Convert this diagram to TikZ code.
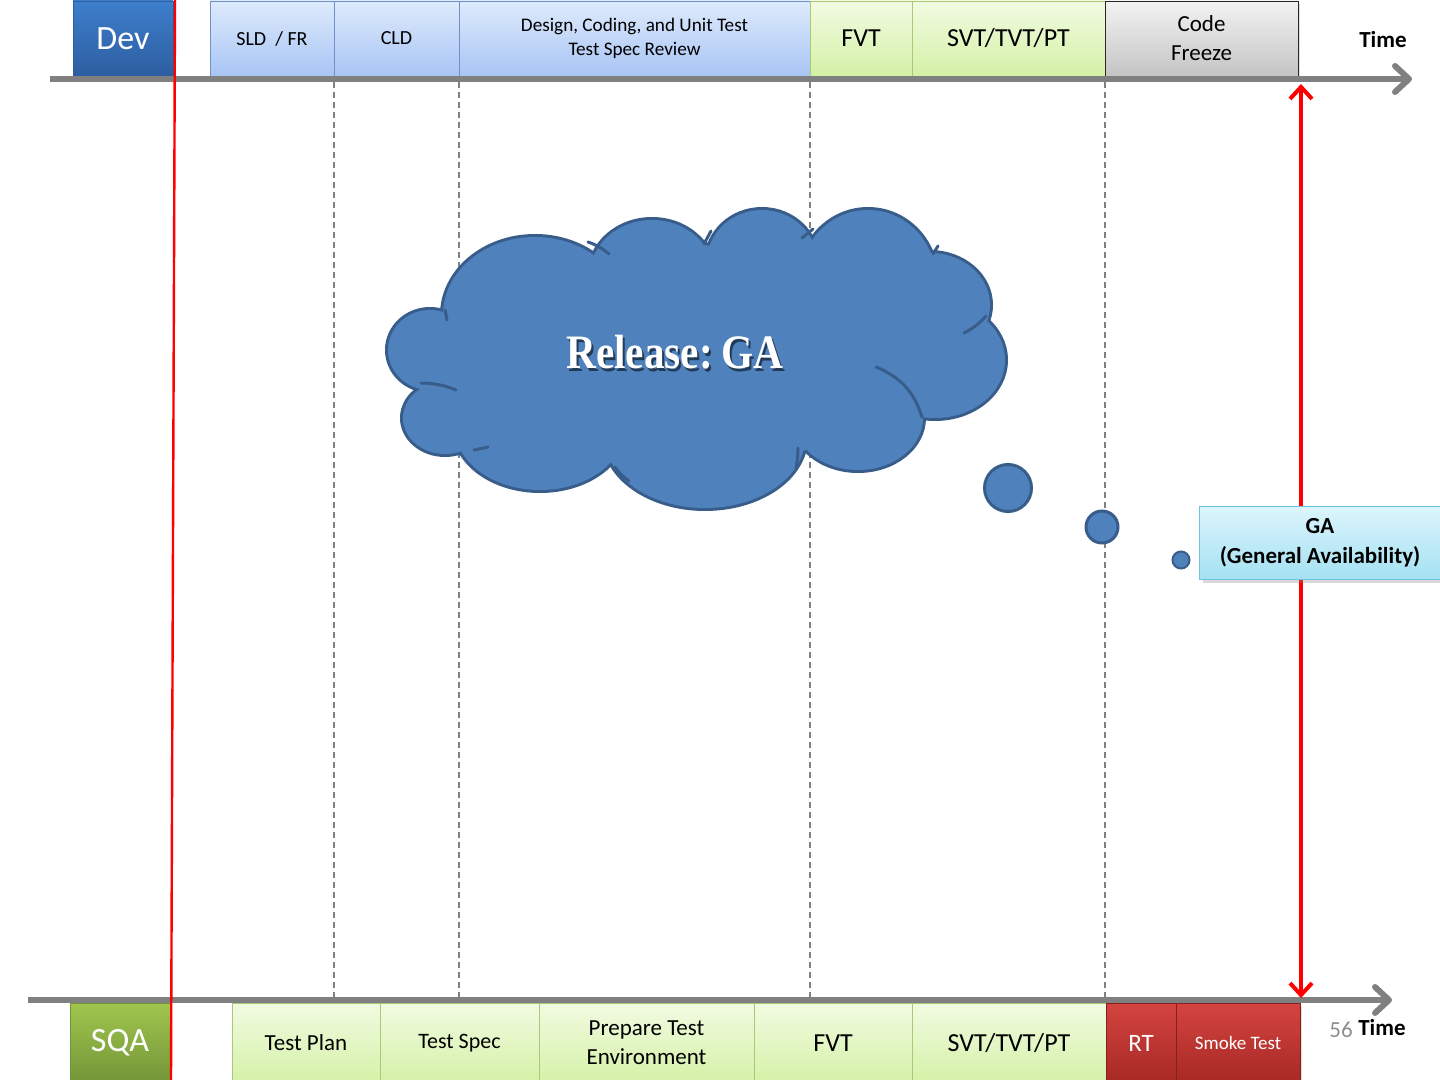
\documentclass[tikz,border=0pt]{standalone}
\usepackage{fontspec}
\setmainfont{Carlito}
\newfontfamily\releasefont{Liberation Serif}
\definecolor{axisgray}{RGB}{128,128,128}
\definecolor{bluetop}{RGB}{222,234,252}
\definecolor{bluebot}{RGB}{168,197,244}
\definecolor{blueline}{RGB}{110,146,200}
\definecolor{greentop}{RGB}{242,251,226}
\definecolor{greenbot}{RGB}{212,241,166}
\definecolor{greenline}{RGB}{170,200,118}
\definecolor{graytop}{RGB}{243,243,243}
\definecolor{graybot}{RGB}{196,196,196}
\definecolor{grayline}{RGB}{40,40,40}
\definecolor{devtop}{RGB}{62,126,204}
\definecolor{devbot}{RGB}{44,94,160}
\definecolor{sqatop}{RGB}{160,198,78}
\definecolor{sqabot}{RGB}{116,148,56}
\definecolor{redtop}{RGB}{212,68,64}
\definecolor{redbot}{RGB}{166,40,36}
\definecolor{gatop}{RGB}{220,245,252}
\definecolor{gabot}{RGB}{164,225,242}
\definecolor{galine}{RGB}{110,196,224}
\definecolor{cloudfill}{RGB}{79,129,189}
\definecolor{cloudedge}{RGB}{56,93,138}
\usetikzlibrary{arrows.meta,positioning,shadows}

\begin{document}
\begin{tikzpicture}[x=0.5pt, y=-0.5pt,
    phase/.style={draw, inner sep=1pt, outer sep=0pt, align=center,
                  drop shadow={opacity=0.25, shadow xshift=1pt, shadow yshift=-1.5pt}},
    toprow/.style={minimum height=37.5pt},
    botrow/.style={minimum height=40pt},
    leadbox/.style={phase, text=white, font=\fontsize{17}{20}\selectfont, minimum width=50pt},
    bluephase/.style={phase, toprow, draw=blueline, top color=bluetop, bottom color=bluebot,
                      font=\fontsize{10}{12}\selectfont},
    greenphase/.style={phase, draw=greenline, top color=greentop, bottom color=greenbot,
                       font=\fontsize{11.5}{14.5}\selectfont},
    redphase/.style={phase, botrow, draw=redbot!80!black, top color=redtop, bottom color=redbot,
                     text=white},
    bigtext/.style={font=\fontsize{13}{15}\selectfont},
    timeaxis/.style={line width=3pt, draw=axisgray, -{Straight Barb[round, length=7pt, width=13pt]}},
    timelabel/.style={font=\bfseries\fontsize{11.5}{14}\selectfont},
    guide/.style={draw=axisgray, line width=0.6pt, dash pattern=on 3pt off 2pt},
    puffedge/.style={draw=cloudedge, line width=3pt},
    innerpuff/.style={draw=cloudedge, line width=1.5pt, line cap=round},
    bubble/.style={circle, fill=cloudfill, draw=cloudedge, line width=1.5pt, inner sep=0pt},
    gaarrow/.style={draw=red, line width=2pt, <->, >={Straight Barb[length=6pt, width=11pt]}},
    gabox/.style={draw=galine, top color=gatop, bottom color=gabot, align=center,
                  font=\bfseries\fontsize{11.5}{15}\selectfont,
                  drop shadow={opacity=0.3, shadow xshift=1.5pt, shadow yshift=-1.5pt}}
  ]
  \useasboundingbox (0,0) rectangle (1440,1080);

  % DEV: phases on the upper time axis
  \node[leadbox, toprow, draw=devbot, top color=devtop, bottom color=devbot,
        anchor=south west] (dev) at (73,76) {Dev};
  \node[bluephase, minimum width=62pt, anchor=south west] (sld) at (210,76) {SLD\ \ / FR};
  \node[bluephase, minimum width=62.5pt, right=0pt of sld] (cld) {CLD};
  \node[bluephase, minimum width=175.5pt, right=0pt of cld,
        font=\fontsize{9.6}{12}\selectfont] (design) {Design, Coding, and Unit Test\\Test Spec Review};
  \node[greenphase, toprow, bigtext, minimum width=51pt, right=0pt of design] (fvtdev) {FVT};
  \node[greenphase, toprow, bigtext, minimum width=96.5pt, right=0pt of fvtdev] (svtdev) {SVT/TVT/PT};
  \node[phase, toprow, draw=grayline, top color=graytop, bottom color=graybot,
        font=\fontsize{11.5}{14.5}\selectfont, minimum width=96.5pt,
        right=0pt of svtdev] (freeze) {Code\\Freeze};

  % SQA: phases under the lower time axis
  \node[leadbox, botrow, draw=sqabot, top color=sqatop, bottom color=sqabot,
        anchor=north west] (sqa) at (70,1003) {SQA};
  \node[greenphase, botrow, minimum width=74pt, anchor=north west] (testplan) at (232,1003) {Test Plan};
  \node[greenphase, botrow, minimum width=79.5pt, right=0pt of testplan,
        font=\fontsize{11}{14}\selectfont] (testspec) {Test Spec};
  \node[greenphase, botrow, minimum width=107.5pt, right=0pt of testspec] (testenv) {Prepare Test\\Environment};
  \node[greenphase, botrow, bigtext, minimum width=79pt, right=0pt of testenv] (fvtsqa) {FVT};
  \node[greenphase, botrow, bigtext, minimum width=97pt, right=0pt of fvtsqa] (svtsqa) {SVT/TVT/PT};
  \node[redphase, minimum width=35pt, right=0pt of svtsqa, font=\fontsize{12.5}{15}\selectfont] (rt) {RT};
  \node[redphase, minimum width=62pt, right=0pt of rt, font=\fontsize{9.5}{12}\selectfont] (smoke) {Smoke Test};

  % time axes
  \coordinate (devaxis-start) at (50,79);
  \coordinate (devaxis-end) at (1412,79);
  \coordinate (sqaaxis-start) at (28,1000);
  \coordinate (sqaaxis-end) at (1392,1000);
  \draw[timeaxis] (devaxis-start) -- (devaxis-end);
  \draw[timeaxis] (sqaaxis-start) -- (sqaaxis-end);
  \node[timelabel] (devtime) at (1383,40) {Time};
  \node[timelabel] (sqatime) at (1382,1028) {Time};
  \node[font=\fontsize{11.5}{14}\selectfont, text=axisgray!90] (pagenum) at (1341,1030) {56};

  % phase borders carried down to the SQA axis
  \foreach \edge in {sld, cld, design, svtdev}
    \draw[guide] ([yshift=-3pt]\edge.south east) -- (\edge.south east |- sqaaxis-start);

  % cloud: outlined puffs, then filled on top
  \def\puffs{430/350/42/40, 445/418/42/36, 535/315/92/78, 652/275/62/55,
             762/262/55/52, 868/280/68/70, 930/305/60/52, 935/360/70/58,
             858/418/65/52, 705/438/100/70, 540/428/85/62, 690/355/230/110,
             480/385/45/40}
  \foreach \cx/\cy/\rx/\ry in \puffs
    \draw[puffedge] (\cx,\cy) ellipse [x radius=\rx, y radius=\ry];
  \foreach \cx/\cy/\rx/\ry in \puffs
    \fill[cloudfill] (\cx,\cy) ellipse [x radius=\rx, y radius=\ry];
  \draw[innerpuff] (421,383) to[bend left=10] (456,390);
  \draw[innerpuff] (445,310) -- (447,320);
  \draw[innerpuff] (474,450) -- (488,447);
  \draw[innerpuff] (615,467) to[bend right=10] (629,481);
  \draw[innerpuff] (798,448) to[bend left=5] (796,468);
  \draw[innerpuff] (876,367) to[bend left=25] (922,417);
  \draw[innerpuff] (964,333) to[bend right=10] (986,316);
  \draw[innerpuff] (933,254) -- (938,246);
  \draw[innerpuff] (802,238) -- (813,229);
  \draw[innerpuff] (704,244) -- (711,231);
  \draw[innerpuff] (588,242) to[bend left=10] (609,254);
  \node[text=black, opacity=0.55, font=\releasefont\bfseries\fontsize{24}{28}\selectfont]
    (releaseshadow) at (677,355) {\scalebox{0.86}[1]{Release:\hspace{-0.12em} GA}};
  \node[text=white, font=\releasefont\bfseries\fontsize{24}{28}\selectfont]
    (release) at (675,352) {\scalebox{0.86}[1]{Release:\hspace{-0.12em} GA}};
  \node[bubble, minimum size=23.5pt] (bubble1) at (1008,488) {};
  \node[bubble, minimum size=16pt] (bubble2) at (1102,527) {};
  \node[bubble, minimum size=8.5pt, line width=1pt] (bubble3) at (1181,560) {};

  % GA marker between the two axes
  \coordinate (ga-top) at (1301,84);
  \coordinate (ga-bot) at (1301,998);
  \draw[gaarrow] (ga-top) -- (ga-bot);
  \node[gabox, minimum width=120.5pt, minimum height=36.5pt] (ga) at (1320,543)
    {GA\\(General Availability)};

  % start line
  \coordinate (start-top) at (175,0);
  \coordinate (start-bot) at (171,1080);
  \draw[red, line width=1.2pt] (start-top) -- (start-bot);
\end{tikzpicture}
\end{document}
